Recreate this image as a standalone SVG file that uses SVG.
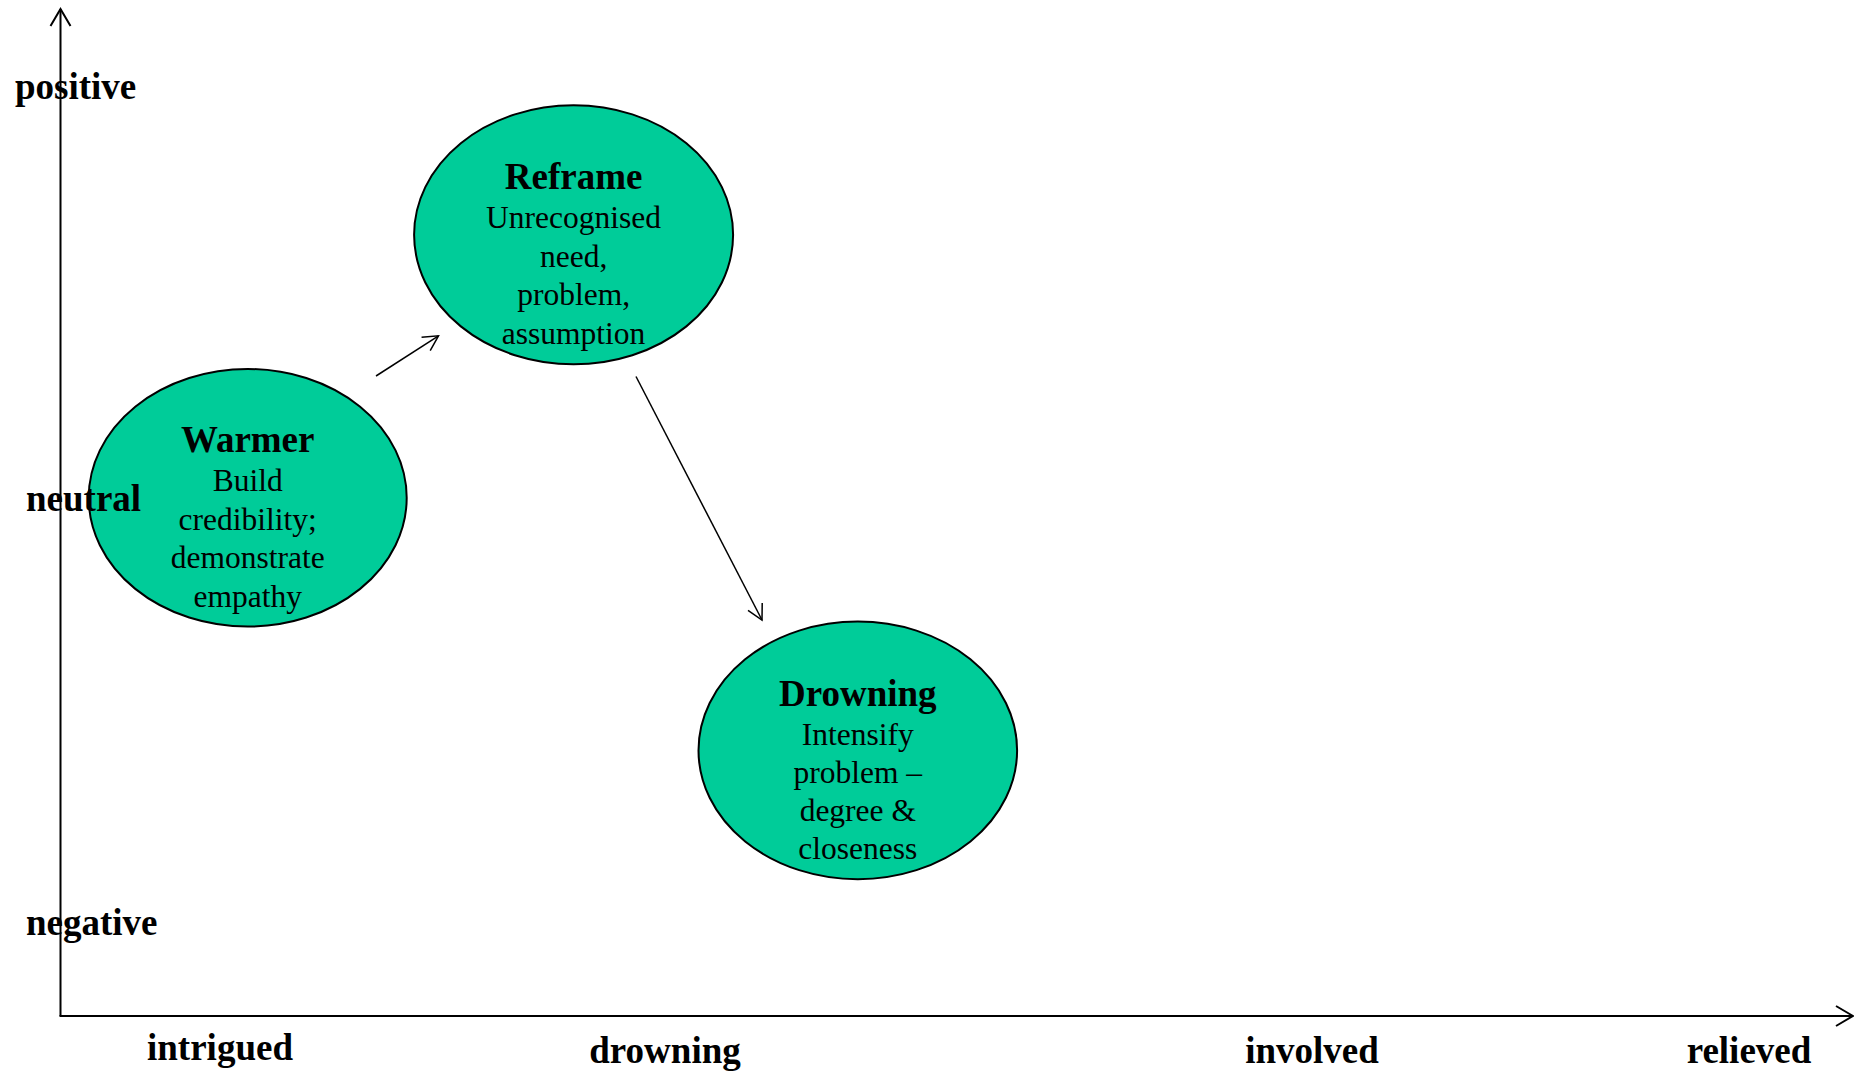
<svg xmlns="http://www.w3.org/2000/svg" width="1854" height="1073" viewBox="0 0 1854 1073">
  <style>
    text { font-family: "Liberation Serif", "Times New Roman", serif; fill: #000; }
    .axislabel { font-size: 37px; font-weight: bold; }
    .title { font-size: 37px; font-weight: bold; text-anchor: middle; }
    .body { font-size: 31.5px; text-anchor: middle; }
    .node ellipse { fill: #00CC99; stroke: #000; stroke-width: 2; }
    .axis { stroke: #000; stroke-width: 2; fill: none; }
    .conn { stroke: #000; stroke-width: 1.5; fill: none; }
  </style>
  <defs>
    <marker id="axisHead" markerUnits="userSpaceOnUse" markerWidth="20" markerHeight="24" refX="18" refY="11" orient="auto" overflow="visible">
      <polyline points="1,1 18,11 1,21" fill="none" stroke="#000" stroke-width="2"/>
    </marker>
    <marker id="connHead" markerUnits="userSpaceOnUse" markerWidth="18" markerHeight="20" refX="16" refY="9" orient="auto" overflow="visible">
      <polyline points="1,1 16,9 1,17" fill="none" stroke="#000" stroke-width="1.5"/>
    </marker>
  </defs>

  <g id="node-warmer" class="node">
    <ellipse cx="247.7" cy="497.8" rx="159" ry="128.8"/>
    <text class="title" x="247.7" y="452">Warmer</text>
    <text class="body" x="247.7" y="491">Build</text>
    <text class="body" x="247.7" y="530">credibility;</text>
    <text class="body" x="247.7" y="568">demonstrate</text>
    <text class="body" x="247.7" y="606.5">empathy</text>
  </g>

  <g id="node-reframe" class="node">
    <ellipse cx="573.6" cy="234.8" rx="159.5" ry="129.5"/>
    <text class="title" x="573.6" y="188.5">Reframe</text>
    <text class="body" x="573.6" y="228">Unrecognised</text>
    <text class="body" x="573.6" y="266.5">need,</text>
    <text class="body" x="573.6" y="305">problem,</text>
    <text class="body" x="573.6" y="343.5">assumption</text>
  </g>

  <g id="node-drowning" class="node">
    <ellipse cx="857.8" cy="750.4" rx="159.3" ry="128.8"/>
    <text class="title" x="857.8" y="705.5">Drowning</text>
    <text class="body" x="857.8" y="745">Intensify</text>
    <text class="body" x="857.8" y="783">problem –</text>
    <text class="body" x="857.8" y="821">degree &amp;</text>
    <text class="body" x="857.8" y="859">closeness</text>
  </g>

  <g id="axis-labels">
    <text class="axislabel" x="15" y="99">positive</text>
    <text class="axislabel" x="26" y="511">neutral</text>
    <text class="axislabel" x="26" y="935">negative</text>
    <text class="axislabel" x="220" y="1060" text-anchor="middle">intrigued</text>
    <text class="axislabel" x="665" y="1063" text-anchor="middle">drowning</text>
    <text class="axislabel" x="1312" y="1063" text-anchor="middle">involved</text>
    <text class="axislabel" x="1749" y="1063" text-anchor="middle">relieved</text>
  </g>

  <g id="axes">
    <line class="axis" x1="60.5" y1="1016" x2="60.5" y2="9" marker-end="url(#axisHead)"/>
    <line class="axis" x1="59.5" y1="1016" x2="1853" y2="1016" marker-end="url(#axisHead)"/>
  </g>

  <g id="connectors">
    <line class="conn" x1="376" y1="376" x2="438.5" y2="335.8" marker-end="url(#connHead)"/>
    <line class="conn" x1="636" y1="376.5" x2="762" y2="620" marker-end="url(#connHead)"/>
  </g>
</svg>
